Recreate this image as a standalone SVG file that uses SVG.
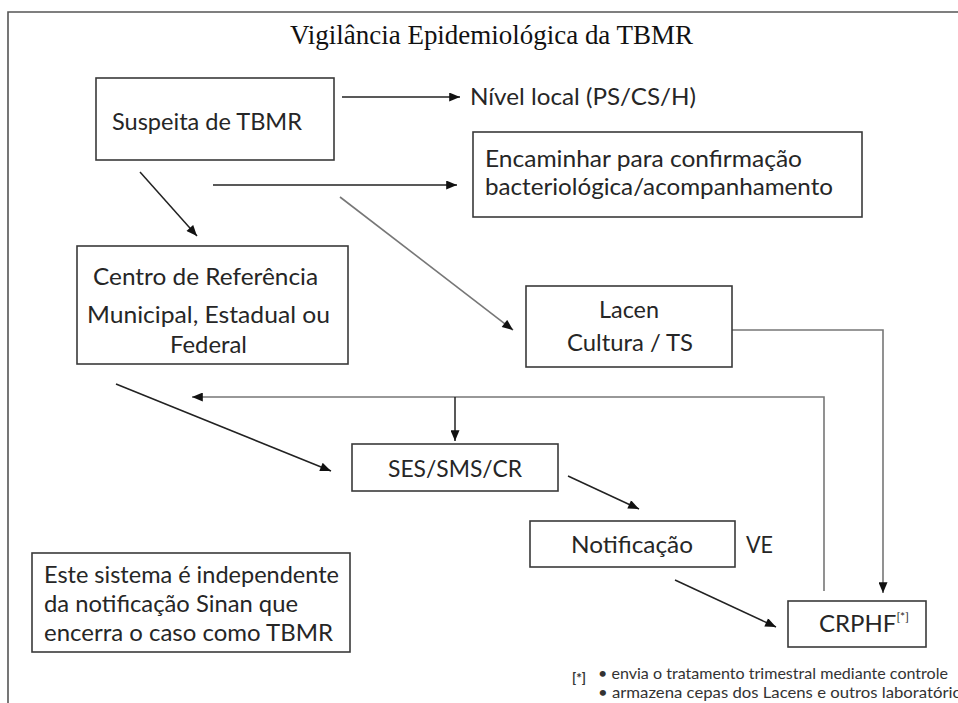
<svg xmlns="http://www.w3.org/2000/svg" width="958" height="703" viewBox="0 0 958 703">
<style>
.box{fill:#fff;stroke:#3a3a3a;stroke-width:1.6}
.t{font-family:Lato,"Liberation Sans",sans-serif;font-size:24px;fill:#262626}
.fn{font-family:Lato,"Liberation Sans",sans-serif;font-size:15px;fill:#333}
.dk{fill:none;stroke:#222;stroke-width:1.5}
.gr{fill:none;stroke:#777;stroke-width:1.6}
</style>
<defs>
<marker id="ah" viewBox="0 0 12 10" refX="12" refY="5" markerWidth="12" markerHeight="9" markerUnits="userSpaceOnUse" orient="auto">
<path d="M0,0 L12,5 L0,10 Z" fill="#111"/>
</marker>
</defs>
<rect width="958" height="703" fill="#fff"/>
<path d="M8,703 V12 H958" fill="none" stroke="#555" stroke-width="1.6"/>
<text x="290" y="44" font-family="'Liberation Serif',serif" font-size="28" fill="#111" textLength="403" lengthAdjust="spacingAndGlyphs">Vigilância Epidemiológica da TBMR</text>

<g id="connectors">
<line class="dk" x1="342" y1="97" x2="460" y2="97" marker-end="url(#ah)"/>
<line class="dk" x1="213" y1="185" x2="457" y2="185" marker-end="url(#ah)"/>
<line class="dk" x1="140" y1="172" x2="197" y2="236" marker-end="url(#ah)"/>
<line class="gr" x1="340" y1="197" x2="513" y2="330" marker-end="url(#ah)"/>
<polyline class="gr" points="732,330 883,330 883,593" marker-end="url(#ah)"/>
<polyline class="gr" points="824,591 824,397 192,397" marker-end="url(#ah)"/>
<line class="dk" x1="455" y1="397" x2="455" y2="441" marker-end="url(#ah)"/>
<line class="dk" x1="116" y1="384" x2="331" y2="471" marker-end="url(#ah)"/>
<line class="dk" x1="568" y1="476" x2="639" y2="509" marker-end="url(#ah)"/>
<line class="dk" x1="675" y1="580" x2="776" y2="627" marker-end="url(#ah)"/>
</g>

<g id="suspeita">
<rect class="box" x="96" y="78" width="238" height="82"/>
<text class="t" x="112" y="130" textLength="190" lengthAdjust="spacingAndGlyphs">Suspeita de TBMR</text>
</g>
<g id="nivel-local">
<text class="t" x="470" y="105" textLength="226" lengthAdjust="spacingAndGlyphs">Nível local (PS/CS/H)</text>
</g>
<g id="encaminhar">
<rect class="box" x="473" y="132" width="389" height="85"/>
<text class="t" x="485" y="167" textLength="317" lengthAdjust="spacingAndGlyphs">Encaminhar para confirmação</text>
<text class="t" x="485" y="195" textLength="348" lengthAdjust="spacingAndGlyphs">bacteriológica/acompanhamento</text>
</g>
<g id="centro">
<rect class="box" x="77" y="246" width="271" height="118"/>
<text class="t" x="93" y="285" textLength="225" lengthAdjust="spacingAndGlyphs">Centro de Referência</text>
<text class="t" x="87" y="323" textLength="243" lengthAdjust="spacingAndGlyphs">Municipal, Estadual ou</text>
<text class="t" x="170" y="353" textLength="77" lengthAdjust="spacingAndGlyphs">Federal</text>
</g>
<g id="lacen">
<rect class="box" x="526" y="286" width="206" height="81"/>
<text class="t" x="599" y="318" textLength="60" lengthAdjust="spacingAndGlyphs">Lacen</text>
<text class="t" x="567" y="351" textLength="126" lengthAdjust="spacingAndGlyphs">Cultura / TS</text>
</g>
<g id="ses">
<rect class="box" x="352" y="444" width="206" height="47"/>
<text class="t" x="388" y="477" textLength="134" lengthAdjust="spacingAndGlyphs">SES/SMS/CR</text>
</g>
<g id="notificacao">
<rect class="box" x="530" y="521" width="205" height="46"/>
<text class="t" x="571" y="553" textLength="122" lengthAdjust="spacingAndGlyphs">Notificação</text>
<text class="t" x="746" y="553" textLength="27" lengthAdjust="spacingAndGlyphs">VE</text>
</g>
<g id="crphf">
<rect class="box" x="788" y="601" width="138" height="46"/>
<text class="t" x="819" y="632" font-size="23">CRPHF<tspan dy="-11" font-size="12">[*]</tspan></text>
</g>
<g id="nota-sistema">
<rect class="box" x="32" y="553" width="318" height="99"/>
<text class="t" x="44" y="583" textLength="295" lengthAdjust="spacingAndGlyphs">Este sistema é independente</text>
<text class="t" x="44" y="612" textLength="254" lengthAdjust="spacingAndGlyphs">da notificação Sinan que</text>
<text class="t" x="44" y="641" textLength="289" lengthAdjust="spacingAndGlyphs">encerra o caso como TBMR</text>
</g>
<g id="rodape">
<text x="572" y="683" font-family="Lato,'Liberation Sans',sans-serif" font-size="13" font-weight="bold" fill="#333" textLength="14" lengthAdjust="spacingAndGlyphs">[*]</text>
<text class="fn" x="598" y="679" textLength="350" lengthAdjust="spacingAndGlyphs">• envia o tratamento trimestral mediante controle</text>
<text class="fn" x="598" y="698" textLength="364" lengthAdjust="spacingAndGlyphs">• armazena cepas dos Lacens e outros laboratório</text>
</g>
</svg>
